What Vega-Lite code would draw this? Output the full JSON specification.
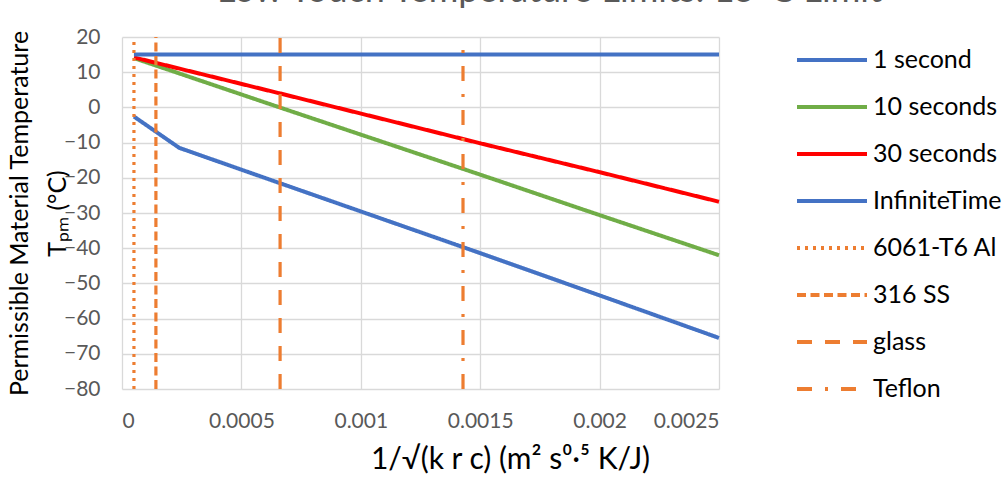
{
  "$schema": "https://vega.github.io/schema/vega-lite/v6.json",
  "width": 597,
  "height": 352,
  "autosize": "none",
  "padding": {"left": 122, "top": 37, "right": 288, "bottom": 90},
  "background": "white",
  "config": {
    "font": "Lato",
    "view": {"stroke": null},
    "axis": {
      "labelColor": "#595959",
      "labelFontSize": 21,
      "titleColor": "#000000",
      "titleFontSize": 25,
      "titleFontWeight": "normal",
      "gridColor": "#D9D9D9",
      "gridWidth": 1.3,
      "domain": false,
      "ticks": false,
      "tickSize": 0
    }
  },
  "title": {
    "text": "Low Touch Temperature Limits: 15°C Limit",
    "fontSize": 36,
    "fontWeight": "normal",
    "color": "#595959",
    "anchor": "middle",
    "dx": 129,
    "offset": 16
  },
  "datasets": {
    "curves": [
      {"series": "1 second", "x": 0.00005, "y": -2.6},
      {"series": "1 second", "x": 0.00024, "y": -11.5},
      {"series": "1 second", "x": 0.00066, "y": -21.5},
      {"series": "1 second", "x": 0.0015, "y": -41.4},
      {"series": "1 second", "x": 0.002, "y": -53.4},
      {"series": "1 second", "x": 0.0025, "y": -65.5},
      {"series": "10 seconds", "x": 0.00005, "y": 14},
      {"series": "10 seconds", "x": 0.00066, "y": 0},
      {"series": "10 seconds", "x": 0.0015, "y": -19.1},
      {"series": "10 seconds", "x": 0.002, "y": -30.6},
      {"series": "10 seconds", "x": 0.0025, "y": -42},
      {"series": "30 seconds", "x": 0.00005, "y": 14.2},
      {"series": "30 seconds", "x": 0.00066, "y": 4},
      {"series": "30 seconds", "x": 0.0015, "y": -10.2},
      {"series": "30 seconds", "x": 0.002, "y": -18.4},
      {"series": "30 seconds", "x": 0.0025, "y": -26.8},
      {"series": "InfiniteTime", "x": 0.00005, "y": 15},
      {"series": "InfiniteTime", "x": 0.0025, "y": 15}
    ],
    "materials": [
      {"series": "6061-T6 Al", "x": 0.00005, "y": -80},
      {"series": "6061-T6 Al", "x": 0.00005, "y": 20},
      {"series": "316 SS", "x": 0.000142, "y": -80},
      {"series": "316 SS", "x": 0.000142, "y": 20},
      {"series": "glass", "x": 0.000662, "y": -80},
      {"series": "glass", "x": 0.000662, "y": 20},
      {"series": "Teflon", "x": 0.001428, "y": -80},
      {"series": "Teflon", "x": 0.001428, "y": 20}
    ]
  },
  "encoding": {
    "x": {
      "field": "x",
      "type": "quantitative",
      "scale": {"domain": [0, 0.0025], "nice": false, "zero": false},
      "axis": {
        "values": [0, 0.0005, 0.001, 0.0015, 0.002, 0.0025],
        "format": "~g",
        "labelPadding": 21,
        "title": "1/√(k r c) (m² s⁰·⁵ K/J)",
        "titleFontSize": 30,
        "titlePadding": 13,
        "titleX": 388,
        "titleAlign": "center"
      }
    },
    "y": {
      "field": "y",
      "type": "quantitative",
      "scale": {"domain": [-80, 20], "nice": false, "zero": false},
      "axis": {
        "values": [-80, -70, -60, -50, -40, -30, -20, -10, 0, 10, 20],
        "labelPadding": 22,
        "title": ["Permissible Material Temperature", "Tₚₘ (°C)"],
        "titleLineHeight": 38,
        "titlePadding": -7
      }
    },
    "color": {
      "field": "series",
      "type": "nominal",
      "scale": {
        "domain": ["1 second", "10 seconds", "30 seconds", "InfiniteTime", "6061-T6 Al", "316 SS", "glass", "Teflon"],
        "range": ["#4472C4", "#70AD47", "#FF0000", "#4472C4", "#ED7D31", "#ED7D31", "#ED7D31", "#ED7D31"]
      },
      "legend": {
        "title": null,
        "orient": "none",
        "legendX": 673,
        "legendY": 11,
        "padding": 0,
        "labelFontSize": 25,
        "labelColor": "#000000",
        "labelOffset": 4,
        "symbolType": "stroke",
        "symbolSize": 4900,
        "symbolStrokeWidth": 4,
        "clipHeight": 24,
        "rowPadding": 22
      }
    },
    "strokeDash": {
      "field": "series",
      "type": "nominal",
      "scale": {
        "domain": ["1 second", "10 seconds", "30 seconds", "InfiniteTime", "6061-T6 Al", "316 SS", "glass", "Teflon"],
        "range": [[1, 0], [1, 0], [1, 0], [1, 0], [3, 5], [9, 4.5], [15, 13], [15, 13, 3, 13]]
      },
      "legend": {
        "title": null,
        "orient": "none",
        "legendX": 673,
        "legendY": 11,
        "padding": 0,
        "labelFontSize": 25,
        "labelColor": "#000000",
        "labelOffset": 4,
        "symbolType": "stroke",
        "symbolSize": 4900,
        "symbolStrokeWidth": 4,
        "clipHeight": 24,
        "rowPadding": 22
      }
    }
  },
  "layer": [
    {
      "data": {"name": "curves"},
      "mark": {"type": "line", "strokeWidth": 4}
    },
    {
      "data": {"name": "materials"},
      "mark": {"type": "line", "strokeWidth": 3.2}
    }
  ]
}
